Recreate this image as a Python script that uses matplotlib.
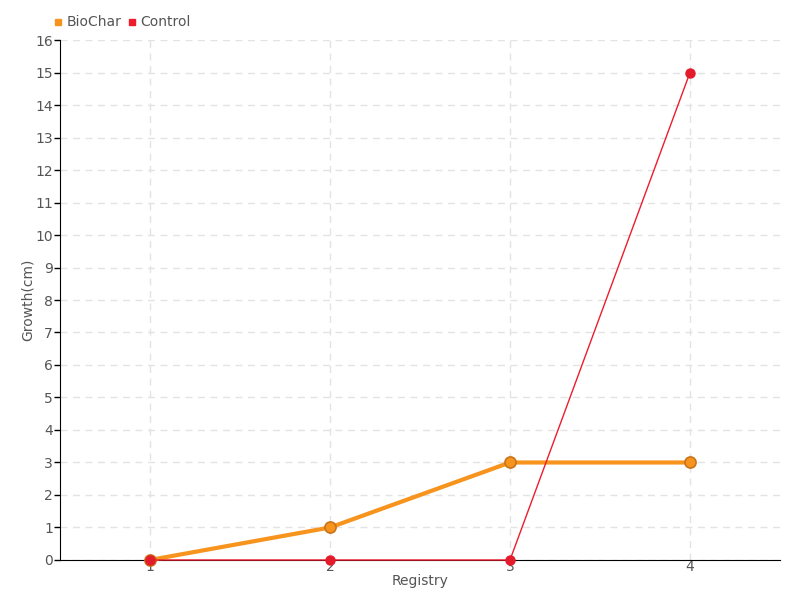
import matplotlib.pyplot as plt
from matplotlib.lines import Line2D

# data
registry = [1, 2, 3, 4]
biochar = [0, 1, 3, 3]
control = [0, 0, 0, 15]
y_ticks = list(range(0, 17))

plt.rcParams['font.family'] = ['DejaVu Sans']

fig = plt.figure(figsize=(8, 6), dpi=100)
ax = fig.add_axes([0.075, 0.0667, 0.9, 0.8666])

ax.plot(registry, biochar, color='#f7941d', lw=3, marker='o', ms=8,
        mfc='#f7941d', mec='#c8741a', mew=1.2, zorder=3, clip_on=False)
ax.plot(registry, control, color='#ee1c2c', lw=1, marker='o', ms=6.5,
        mfc='#e31b2b', mec='#e31b2b', zorder=4, clip_on=False)

ax.set_xlim(0.5, 4.5)
ax.set_ylim(0, 16)
ax.set_xticks(registry)
ax.set_yticks(y_ticks)
ax.grid(True, color='#e3e3e3', ls=(0, (5, 4)), lw=1)
ax.set_axisbelow(True)
for s in ['top', 'right']:
    ax.spines[s].set_visible(False)
ax.tick_params(axis='y', length=4, width=1, color='black', labelcolor='#555555',
               labelsize=10, pad=1)
ax.tick_params(axis='x', length=0, labelcolor='#555555', labelsize=10, pad=0)
ax.set_xlabel('Registry', color='#555555', fontsize=10, labelpad=0)
ax.set_ylabel('Growth(cm)', color='#555555', fontsize=10)
ax.yaxis.set_label_coords(-0.035, 0.5)

handles = [Line2D([], [], ls='', marker='s', ms=5, color='#f7941d'),
           Line2D([], [], ls='', marker='s', ms=5, color='#ee1c2c')]
fig.legend(handles, ['BioChar', 'Control'], loc='upper left',
           bbox_to_anchor=(0.05, 0.995), ncol=2, frameon=False,
           handlelength=0.8, handletextpad=0.2, columnspacing=0.4,
           fontsize=10, labelcolor='#555555')

fig.savefig('out.png', dpi=100)
